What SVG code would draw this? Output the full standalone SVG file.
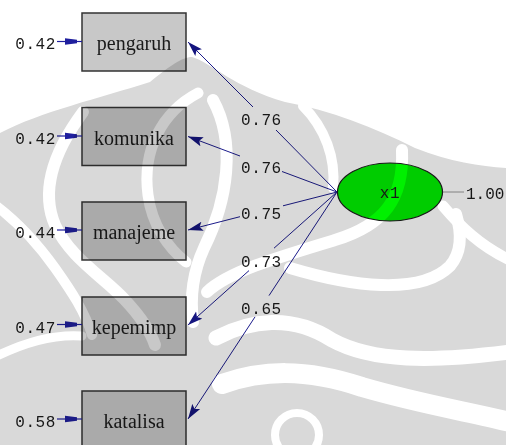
<svg xmlns="http://www.w3.org/2000/svg" width="506" height="445" viewBox="0 0 506 445">
  <style>
    .box { fill: #c8c8c8; stroke: #333333; stroke-width: 1.5; }
    .boxlabel { font-family: "Liberation Serif", "DejaVu Serif", serif; font-size: 20px; fill: #1a1a1a; text-anchor: middle; }
    .num { font-family: "Liberation Mono", "DejaVu Sans Mono", monospace; font-size: 16px; letter-spacing: 0.6px; fill: #1a1a1a; }
    .path { stroke: #1c1c8c; stroke-width: 1; fill: none; }
    .err { stroke: #1f1f9e; stroke-width: 1.2; fill: none; }
    .errhead { fill: #1f1f9e; }
    .wm-band { fill: none; stroke: #ffffff; stroke-linecap: round; }
  </style>
  <defs>
    <marker id="head" markerUnits="userSpaceOnUse" markerWidth="16" markerHeight="11" viewBox="0 0 16 11" refX="15" refY="5.5" orient="auto">
      <path d="M0,0.8 L15,5.5 L0,10.2 L3,5.5 Z" fill="#15157f"/>
    </marker>
    <path id="errArrow" d="M0,-3.2 L12,-1.8 L12,1.8 L0,3.2 Z"/>
  </defs>

  <rect x="0" y="0" width="506" height="445" fill="#ffffff"/>

  <!-- connectors: loadings from x1 to its indicators, broken around their values -->
  <g id="connectors">
    <line class="path" x1="337" y1="192" x2="276" y2="130"/>
    <line class="path" x1="253" y1="107" x2="188" y2="42" marker-end="url(#head)"/>
    <line class="path" x1="337" y1="192" x2="282" y2="171.5"/>
    <line class="path" x1="240" y1="156" x2="188" y2="136.5" marker-end="url(#head)"/>
    <line class="path" x1="337" y1="192" x2="283" y2="205.8"/>
    <line class="path" x1="240" y1="216.7" x2="188" y2="230" marker-end="url(#head)"/>
    <line class="path" x1="337" y1="192" x2="274" y2="248.2"/>
    <line class="path" x1="249" y1="270.6" x2="188" y2="325" marker-end="url(#head)"/>
    <line class="path" x1="337" y1="192" x2="269" y2="295.6"/>
    <line class="path" x1="255" y1="316.9" x2="188" y2="419" marker-end="url(#head)"/>
    <text class="num" x="241" y="125">0.76</text>
    <text class="num" x="241" y="172.5">0.76</text>
    <text class="num" x="241" y="219">0.75</text>
    <text class="num" x="241" y="267">0.73</text>
    <text class="num" x="241" y="314">0.65</text>
    <!-- variance of x1 -->
    <line x1="442" y1="192" x2="464" y2="192" stroke="#9a9a9a" stroke-width="1"/>
    <text class="num" x="466" y="198.5" style="letter-spacing:0">1.00</text>
  </g>

  <g id="pengaruh">
    <rect class="box" x="82" y="13" width="104" height="58"/>
    <text class="boxlabel" x="134" y="50">pengaruh</text>
    <line class="err" x1="57" y1="41.5" x2="82" y2="41.5"/>
    <use href="#errArrow" class="errhead" x="65" y="41.5"/>
    <text class="num" x="56" y="49" text-anchor="end">0.42</text>
  </g>

  <g id="komunika">
    <rect class="box" x="82" y="107.5" width="104" height="58"/>
    <text class="boxlabel" x="134" y="144.5">komunika</text>
    <line class="err" x1="57" y1="136" x2="82" y2="136"/>
    <use href="#errArrow" class="errhead" x="65" y="136"/>
    <text class="num" x="56" y="144" text-anchor="end">0.42</text>
  </g>

  <g id="manajeme">
    <rect class="box" x="82" y="202" width="104" height="58"/>
    <text class="boxlabel" x="134" y="238.5">manajeme</text>
    <line class="err" x1="57" y1="230" x2="82" y2="230"/>
    <use href="#errArrow" class="errhead" x="65" y="230"/>
    <text class="num" x="56" y="238" text-anchor="end">0.44</text>
  </g>

  <g id="kepemimp">
    <rect class="box" x="82" y="297" width="104" height="58"/>
    <text class="boxlabel" x="134" y="333.5">kepemimp</text>
    <line class="err" x1="57" y1="324.5" x2="82" y2="324.5"/>
    <use href="#errArrow" class="errhead" x="65" y="324.5"/>
    <text class="num" x="56" y="332.5" text-anchor="end">0.47</text>
  </g>

  <g id="katalisa">
    <rect class="box" x="82" y="391" width="104" height="60"/>
    <text class="boxlabel" x="134" y="427.5">katalisa</text>
    <line class="err" x1="57" y1="419" x2="82" y2="419"/>
    <use href="#errArrow" class="errhead" x="65" y="419"/>
    <text class="num" x="56" y="426.5" text-anchor="end">0.58</text>
  </g>

  <g id="x1">
    <ellipse cx="390" cy="192" rx="52.5" ry="29" fill="#00f000" stroke="#1a1a1a" stroke-width="1.2"/>
    <text class="num" x="390" y="198" text-anchor="middle">x1</text>
  </g>

  <!-- faint background emblem, laid over the drawing -->
  <g id="emblem" style="mix-blend-mode: multiply; isolation: isolate;">
    <path fill="#d9d9d9" d="M0,133 C40,112 100,98 150,82 C170,66 182,57 192,57 C210,62 235,88 285,102 C330,110 375,128 415,148 C450,162 480,166 506,168 L506,445 L0,445 Z"/>
    <path class="wm-band" stroke-width="12" d="M83,112 C55,150 40,190 55,225 C70,258 105,278 125,300 C140,316 150,330 155,345"/>
    <path class="wm-band" stroke-width="10" d="M-5,205 C15,220 35,240 55,268 C72,292 85,312 92,335"/>
    <path class="wm-band" stroke-width="9" d="M-5,357 C25,342 55,334 82,336"/>
    <path class="wm-band" stroke-width="11" d="M198,93 C162,112 142,150 148,195 C152,225 168,248 186,262"/>
    <path class="wm-band" stroke-width="12" d="M213,100 C236,142 228,200 204,248 C193,272 190,298 193,322"/>
    <path class="wm-band" stroke-width="10" d="M303,106 C325,128 336,158 333,188"/>
    <path class="wm-band" stroke-width="12" d="M402,150 C404,198 385,225 335,240 C275,258 228,272 207,292"/>
    <path class="wm-band" stroke-width="12" d="M290,268 C350,286 420,296 450,266 C462,252 462,234 456,214"/>
    <path class="wm-band" stroke-width="11" d="M443,206 C460,226 480,246 510,260"/>
    <path class="wm-band" stroke-width="15" d="M216,338 C250,320 292,314 332,340 C372,362 432,362 510,352"/>
    <path class="wm-band" stroke-width="20" d="M222,384 C262,370 305,368 362,387 C420,404 470,412 510,422"/>
    <circle cx="297" cy="435" r="22" fill="none" stroke="#ffffff" stroke-width="8"/>
  </g>
</svg>
